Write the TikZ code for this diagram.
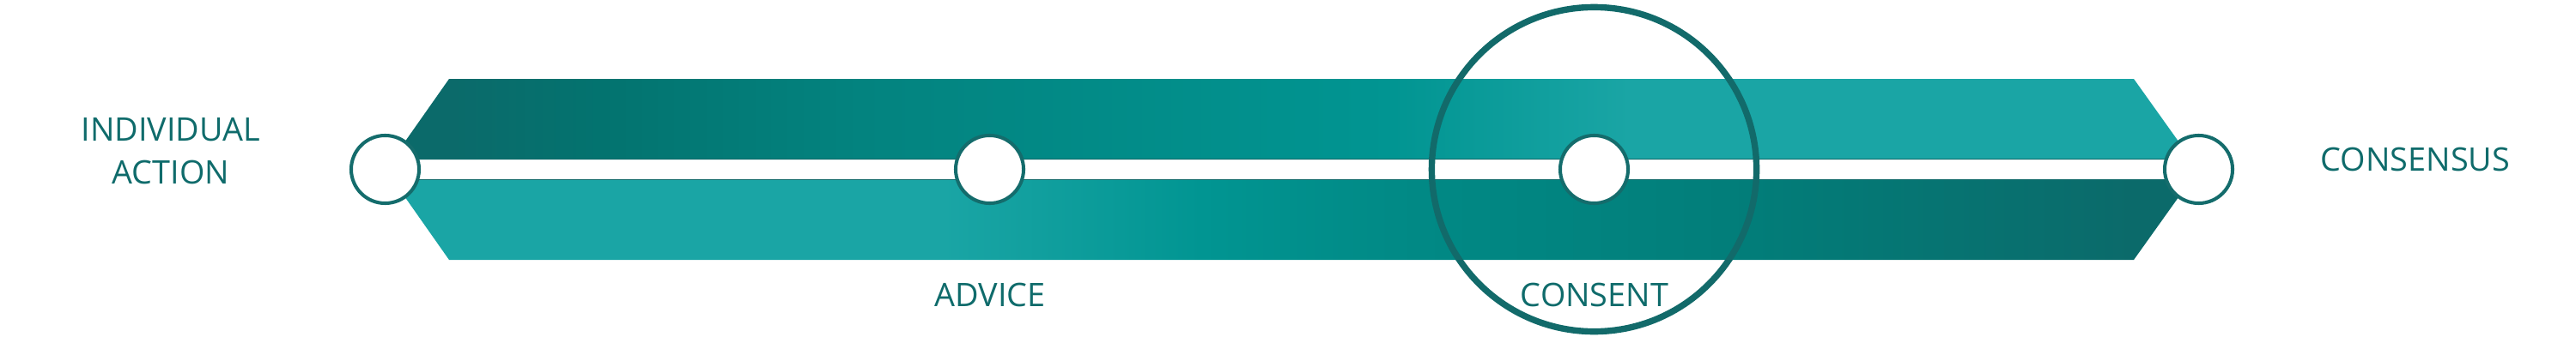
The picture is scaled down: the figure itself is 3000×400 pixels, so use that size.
\documentclass[tikz,border=0pt]{standalone}
\usepackage{fontspec}
\newfontfamily\stagefont{Open Sans}
\definecolor{stageInk}{HTML}{0F6B6B}
\definecolor{dotRim}{HTML}{146C6C}
\definecolor{ringInk}{HTML}{126A6A}
\definecolor{edgeInk}{HTML}{116A6A}
\definecolor{bandDark}{HTML}{0B6A6A}
\definecolor{bandDeep}{HTML}{03736F}
\definecolor{bandMid}{HTML}{03837F}
\definecolor{bandSea}{HTML}{018A86}
\definecolor{bandTeal}{HTML}{019592}
\definecolor{bandLight}{HTML}{1AA5A5}
\definecolor{bandLow}{HTML}{027D79}
\pgfdeclarehorizontalshading{bandtop}{100bp}{color(0bp)=(bandDark); color(26.6bp)=(bandDark); color(30.8bp)=(bandDeep); color(38bp)=(bandMid); color(52.8bp)=(bandTeal); color(59.4bp)=(bandLight); color(100bp)=(bandLight)}
\pgfdeclarehorizontalshading{bandbottom}{100bp}{color(0bp)=(bandLight); color(40.3bp)=(bandLight); color(47.5bp)=(bandTeal); color(52.8bp)=(bandSea); color(62.8bp)=(bandLow); color(73.4bp)=(bandDark); color(100bp)=(bandDark)}
\tikzset{
  stage dot/.style={circle, draw=dotRim, fill=white, line width=1.15pt,
    minimum size=0.79cm, inner sep=0pt},
  ring/.style={circle, draw=ringInk, line width=2.1pt, minimum size=3.78cm, inner sep=0pt},
  stage label/.style={font=\stagefont\fontsize{10.75}{14.2}\selectfont, text=stageInk,
    anchor=base, inner sep=0pt, align=center},
  band edge/.style={draw=edgeInk, line width=0.55pt},
}

\begin{document}
\begin{tikzpicture}[x=0.01cm, y=-0.01cm]
  \useasboundingbox (0,0) rectangle (3000,400);

  % Bands
  \shade[shading=bandtop] (523,92) -- (2485,92) -- (2552,186) -- (457,186) -- cycle;
  \shade[shading=bandbottom] (457,209) -- (2552,209) -- (2485,303) -- (523,303) -- cycle;

  % Gap edges
  \draw[band edge] (457,185.5) -- (2552,185.5);
  \draw[band edge] (457,209.5) -- (2552,209.5);

  % Stage dots
  \foreach \i/\x in {1/448.5, 2/1152.5, 3/1856.5, 4/2560.5}
    \node[stage dot] (dot\i) at (\x,197.5) {};

  % Ring
  \node[ring] (ring) at (dot3) {};

  % Labels
  \node[stage label] (individual) at (199,214) {INDIVIDUAL\\ACTION};
  \node[stage label] (advice) at (1153,357) {ADVICE};
  \node[stage label] (consent) at (1857,357) {CONSENT};
  \node[stage label] (consensus) at (2813,199) {CONSENSUS};
\end{tikzpicture}
\end{document}
